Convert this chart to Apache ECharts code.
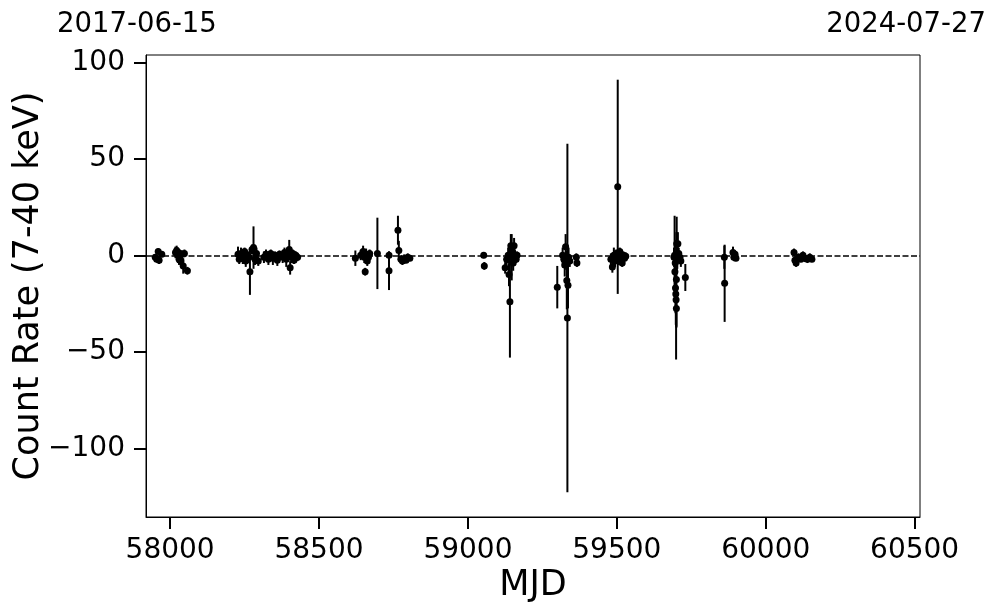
<!DOCTYPE html>
<html>
<head>
<meta charset="utf-8">
<script src="https://cdn.jsdelivr.net/npm/echarts@6/dist/echarts.min.js"></script>
<style>
html,body{margin:0;padding:0;background:#fff;}
#chart{width:997px;height:613px;}
</style>
</head>
<body>
<div id="chart"></div>
<script>
// Observation times (MJD), count rates and 1-sigma errors
const mjd = [
  57950, 57955, 57960, 57963, 57972,
  58018, 58022, 58026, 58030, 58033, 58036, 58040, 58044, 58048, 58058,
  58228, 58232, 58238, 58244, 58250, 58254, 58260, 58265, 58268, 58275, 58280, 58285, 58290, 58296,
  58315, 58322, 58330, 58338, 58345, 58352, 58360, 58367,
  58378, 58384, 58390, 58395, 58400, 58403, 58407, 58412, 58416, 58422, 58428,
  58622, 58640, 58648, 58652, 58655, 58658, 58662, 58666, 58670,
  58696, 58735, 58735, 58765, 58768, 58775, 58780, 58786, 58792, 58798, 58805,
  59053, 59055,
  59125, 59130, 59135, 59138, 59141, 59144, 59147, 59150, 59152, 59155, 59158, 59162, 59165,
  59300, 59318, 59322, 59325, 59328, 59330, 59332, 59334, 59336, 59338, 59342, 59364, 59366,
  59480, 59485, 59490, 59494, 59498, 59503, 59506, 59510, 59514, 59518, 59522, 59526, 59530,
  59692, 59694, 59695, 59696, 59697, 59698, 59699, 59700, 59700, 59701, 59703, 59705, 59708, 59712, 59715, 59730,
  59861, 59862, 59890, 59893, 59897, 59900,
  60095, 60098, 60102, 60110, 60118, 60125, 60132, 60140, 60148, 60155
];
const rate = [
  -1, -2, 2, -2.5, 0.5,
  1.5, 2.5, 0, -2, 1, -3, 0.5, -5.5, 1, -8,
  0.5, -2, 1, -1.5, 2, -3, 0, -1, -8.5, 3, 4, -2, 1, -3,
  -1, 0.5, -2, 1, -1.5, 0, -2.5, 0.5,
  -1, 1.5, -2, 0, 3, -6.5, -1, 1, -2.5, 0, -1,
  -1.5, 0, 2, -1, -8.5, 0.5, -3, -1, 1,
  1, 0, -8, 13, 2.5, -2, -3, -2, -2.5, -1, -1.5,
  0, -5.5,
  -6.5, -2, 0, -10, -24, 5, -1, 2, -4, 5, -1, -2, 0,
  -16.5, 0, -2, -5, 4.5, -2.5, -13, -32.5, -15.5, -1, -3, -1, -4,
  -2, -6, 0, -3, 1, 35.5, -2, 2, -1, -4, 0, -1.5, -0.5,
  -1, 0, -8.5, -4, -17, -20, -23, -12.5, -27.5, 6, -2, 6, 1, -1, -3, -11.5,
  -1, -14.5, 1.5, -1, 0.5, -1.5,
  1.5, -2.5, -4, -1, -2, 0, -1.5, -2, -1, -2
];
const rateErr = [
  1.5, 1.5, 1.5, 2, 1.5,
  3, 2.5, 4, 3, 2, 3, 2, 4, 2, 2,
  4, 2.5, 3, 3, 2, 3, 2, 3, 12, 2.5, 11, 3, 3, 2.5,
  3, 2.5, 3, 2, 3.5, 2, 3, 2,
  3, 2.5, 4, 2, 5, 3.5, 3, 2, 2, 2, 2,
  4, 2.5, 3, 3, 2, 3, 2.5, 3, 2,
  18.5, 2, 10, 7.5, 5, 2, 2, 2.5, 1.5, 2, 1.5,
  1.5, 2,
  3, 3, 4, 6, 29, 6, 12, 3, 4, 4, 3, 2, 2,
  11, 4, 3, 6, 6.5, 5, 15, 90.3, 12, 5, 3, 2, 2,
  3, 3, 4, 3, 2, 55.5, 3, 2, 2.5, 2, 2, 1.5, 2,
  5, 20.5, 8, 6, 13, 16, 31, 24.5, 10, 14, 5, 6, 3, 2, 3, 7,
  6, 20, 3, 2, 2, 1.5,
  2, 2, 2, 2, 1.5, 2, 2, 2, 2, 1.5
];
const xTicks = [58000, 58500, 59000, 59500, 60000, 60500];
const yTicks = [-100, -50, 0, 50, 100];
const xRange = [57919, 60518];
const yRange = [-135.6, 103.8];
const startDate = '2017-06-15';
const endDate = '2024-07-27';
const xLabel = 'MJD';
const yLabel = 'Count Rate (7-40 keV)';

const points = mjd.map((m, i) => [m, rate[i], rateErr[i]]);
const FONT = 'DejaVu Sans';
const fmt = v => (v < 0 ? '\u2212' + Math.abs(v) : String(v));

const chart = echarts.init(document.getElementById('chart'), null, {renderer: 'canvas'});
chart.setOption({
  animation: false,
  backgroundColor: '#fff',
  grid: {left: 146, right: 77, top: 55, bottom: 96, containLabel: false, outerBoundsMode: 'none',
         show: true, borderColor: '#000', borderWidth: 1, backgroundColor: 'transparent'},
  graphic: [
    {type: 'text', left: 57, top: 11, style: {text: startDate, font: '27.5px "' + FONT + '"', fill: '#000'}},
    {type: 'text', right: 11, top: 11, style: {text: endDate, font: '27.5px "' + FONT + '"', fill: '#000'}}
  ],
  xAxis: {
    type: 'value', min: xRange[0], max: xRange[1],
    name: xLabel, nameLocation: 'middle', nameGap: 51, nameMoveOverlap: false,
    nameTextStyle: {fontFamily: FONT, fontSize: 35, color: '#000'},
    axisLine: {show: true, onZero: false, lineStyle: {color: '#000', width: 1}},
    axisTick: {show: true, length: 12, inside: false, customValues: xTicks, lineStyle: {color: '#000', width: 2}},
    axisLabel: {show: true, customValues: xTicks, margin: 20, fontFamily: FONT, fontSize: 28, color: '#000', formatter: fmt},
    splitLine: {show: false}
  },
  yAxis: {
    type: 'value', min: yRange[0], max: yRange[1],
    name: yLabel, nameLocation: 'middle', nameGap: 100, nameRotate: 90, nameMoveOverlap: false,
    nameTextStyle: {fontFamily: FONT, fontSize: 35, color: '#000'},
    axisLine: {show: true, onZero: false, lineStyle: {color: '#000', width: 1}},
    axisTick: {show: true, length: 12, inside: false, customValues: yTicks, lineStyle: {color: '#000', width: 2}},
    axisLabel: {show: true, customValues: yTicks, margin: 21, fontFamily: FONT, fontSize: 28, color: '#000', formatter: fmt},
    splitLine: {show: false}
  },
  series: [
    {
      type: 'custom',
      data: points,
      encode: {x: 0, y: 1},
      z: 2,
      renderItem: function (params, api) {
        const x = api.value(0), y = api.value(1), e = api.value(2);
        const p1 = api.coord([x, y + e]);
        const p2 = api.coord([x, y - e]);
        return {type: 'line', shape: {x1: p1[0], y1: p1[1], x2: p2[0], y2: p2[1]}, style: {stroke: '#000', lineWidth: 2}};
      },
      silent: true
    },
    {
      type: 'scatter',
      data: points,
      symbol: 'circle',
      symbolSize: 7,
      itemStyle: {color: '#000', opacity: 1},
      z: 3,
      silent: true,
      markLine: {
        silent: true, symbol: 'none', label: {show: false},
        lineStyle: {color: '#000', type: [6, 2.5], width: 1.5, opacity: 1},
        data: [{yAxis: 0}]
      }
    }
  ]
});
</script>
</body>
</html>
